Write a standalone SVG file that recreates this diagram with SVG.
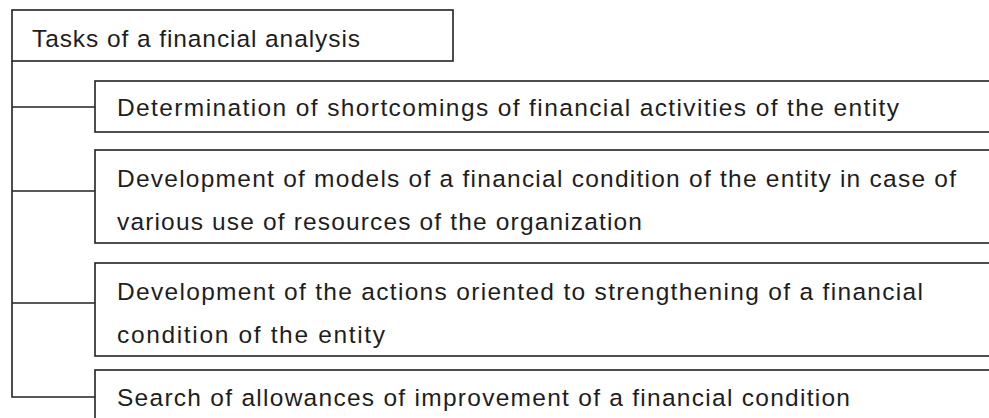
<svg xmlns="http://www.w3.org/2000/svg" width="989" height="418" viewBox="0 0 989 418">
<style>
.box{fill:#fff;stroke:#222;stroke-width:1.6}
.conn{fill:none;stroke:#222;stroke-width:1.6}
text{font-family:"Liberation Sans",Arial,sans-serif;font-size:24.5px;fill:#1e1e1e}
</style>
<rect width="989" height="418" fill="#fff"/>
<g id="connectors">
<path class="conn" d="M12 61 V397 H95"/>
<path class="conn" d="M12 107 H95"/>
<path class="conn" d="M12 191 H95"/>
<path class="conn" d="M12 303 H95"/>
</g>
<g id="title">
<rect class="box" x="12" y="10" width="441" height="51"/>
<text x="32" y="47" textLength="328" lengthAdjust="spacing">Tasks of a financial analysis</text>
</g>
<g id="task1">
<rect class="box" x="95" y="81" width="910" height="51"/>
<text x="117" y="116" textLength="782" lengthAdjust="spacing">Determination of shortcomings of financial activities of the entity</text>
</g>
<g id="task2">
<rect class="box" x="95" y="150" width="910" height="93"/>
<text x="117" y="187" textLength="839" lengthAdjust="spacing">Development of models of a financial condition of the entity in case of</text>
<text x="117" y="230" textLength="525" lengthAdjust="spacing">various use of resources of the organization</text>
</g>
<g id="task3">
<rect class="box" x="95" y="263" width="910" height="93"/>
<text x="117" y="300" textLength="806" lengthAdjust="spacing">Development of the actions oriented to strengthening of a financial</text>
<text x="117" y="343" textLength="268" lengthAdjust="spacing">condition of the entity</text>
</g>
<g id="task4">
<rect class="box" x="95" y="370" width="910" height="80"/>
<text x="117" y="406" textLength="733" lengthAdjust="spacing">Search of allowances of improvement of a financial condition</text>
</g>
</svg>
